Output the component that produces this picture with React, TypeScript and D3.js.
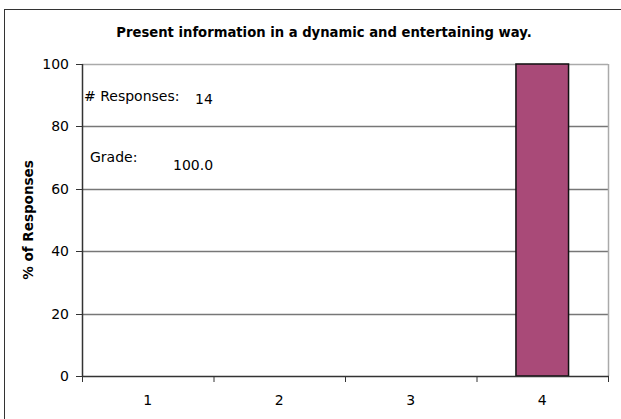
import React from "react";
import * as d3 from "d3";

const title = "Present information in a dynamic and entertaining way.";
const categories = ["1", "2", "3", "4"];
const values = [0, 0, 0, 100];
const yTicks = [0, 20, 40, 60, 80, 100];
const yLabel = "% of Responses";
const responsesLabel = "# Responses:";
const responsesValue = "14";
const gradeLabel = "Grade:";
const gradeValue = "100.0";

export default function App() {
  const W = 621, H = 419;
  const left = 82, right = 608, top = 64, bottom = 376;
  const x = d3.scaleBand<string>().domain(categories).range([left, right]).paddingInner(0).paddingOuter(0);
  const y = d3.scaleLinear().domain([0, 100]).range([bottom, top]);
  const barW = x.bandwidth() * 0.4;
  const font = "DejaVu Sans, sans-serif";
  const boundaries = categories.map((c) => x(c) as number).concat([right]);

  return (
    <svg width={W} height={H} style={{ position: "absolute", left: 0, top: 0, background: "#fff" }}>
      <rect x={4.5} y={9.5} width={W + 20} height={H + 20} fill="#fff" stroke="#333" strokeWidth={1} />
      <text x={324} y={37} textAnchor="middle" fontFamily={font} fontWeight="bold" fontSize={13.2} fill="#000">{title}</text>
      {/* gridlines */}
      {yTicks.filter((t) => t > 0).map((t) => (
        <line key={"g" + t} x1={left} x2={right} y1={Math.round(y(t)) + 0.5} y2={Math.round(y(t)) + 0.5}
          stroke={t === 100 ? "#aaa" : "#777"} strokeWidth={1.5} />
      ))}
      <line x1={right + 0.5} x2={right + 0.5} y1={top} y2={bottom} stroke="#aaa" strokeWidth={1.5} />
      {/* bars */}
      {values.map((v, i) => v > 0 ? (
        <rect key={"b" + i} x={(x(categories[i]) as number) + (x.bandwidth() - barW) / 2} y={y(v)}
          width={barW} height={y(0) - y(v)} fill="#A94A78" stroke="#111" strokeWidth={1.5} />
      ) : null)}
      {/* y axis */}
      <line x1={left + 0.5} x2={left + 0.5} y1={top} y2={bottom} stroke="#333" strokeWidth={1.5} />
      {yTicks.map((t) => (
        <g key={"y" + t}>
          <line x1={left - 6} x2={left} y1={Math.round(y(t)) + 0.5} y2={Math.round(y(t)) + 0.5} stroke="#333" strokeWidth={1} />
          <text x={left - 13} y={y(t)} dy="0.35em" textAnchor="end" fontFamily={font} fontSize={14} fill="#000">{t}</text>
        </g>
      ))}
      {/* x axis */}
      <line x1={left} x2={right + 1} y1={bottom + 0.5} y2={bottom + 0.5} stroke="#333" strokeWidth={1.5} />
      {boundaries.map((b, i) => (
        <line key={"xt" + i} x1={b + 0.5} x2={b + 0.5} y1={bottom} y2={bottom + 6} stroke="#333" strokeWidth={1} />
      ))}
      {categories.map((c) => (
        <text key={"xl" + c} x={(x(c) as number) + x.bandwidth() / 2} y={bottom + 24} dy="0.35em" textAnchor="middle"
          fontFamily={font} fontSize={14} fill="#000">{c}</text>
      ))}
      <text transform={`translate(33,${(top + bottom) / 2}) rotate(-90)`} textAnchor="middle" fontFamily={font}
        fontWeight="bold" fontSize={13.5} fill="#000">{yLabel}</text>
      {/* annotations */}
      <text x={84} y={96} dy="0.35em" fontFamily={font} fontSize={14} fill="#000">{responsesLabel}</text>
      <text x={195} y={99} dy="0.35em" fontFamily={font} fontSize={14} fill="#000">{responsesValue}</text>
      <text x={90} y={157} dy="0.35em" fontFamily={font} fontSize={14} fill="#000">{gradeLabel}</text>
      <text x={173} y={165} dy="0.35em" fontFamily={font} fontSize={14} fill="#000">{gradeValue}</text>
    </svg>
  );
}
